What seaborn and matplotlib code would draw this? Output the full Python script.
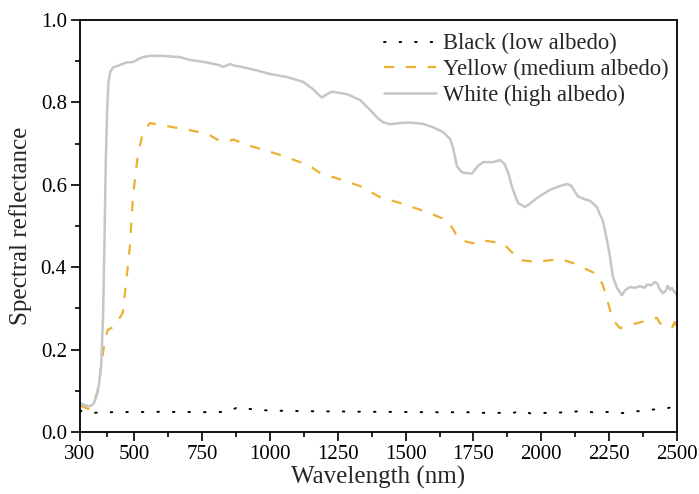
import numpy as np
import pandas as pd
import matplotlib
matplotlib.use("Agg")
import matplotlib.pyplot as plt
import seaborn as sns

# ---- data ----
white_wl = [300, 315, 335, 350, 360, 370, 378, 385, 390, 395, 400, 405, 412, 422, 436, 455, 473,
            495, 515, 532, 558, 600, 668, 705, 760, 816, 827, 853, 870, 890, 950, 1000, 1060,
            1122, 1159, 1180, 1192, 1210, 1229, 1284, 1332, 1369, 1400, 1417, 1442, 1480, 1516,
            1564, 1600, 1638, 1663, 1675, 1689, 1708, 1744, 1765, 1785, 1822, 1848, 1865, 1880,
            1892, 1914, 1940, 1960, 1984, 2032, 2069, 2095, 2110, 2135, 2160, 2180, 2205, 2216,
            2227, 2242, 2252, 2264, 2279, 2297, 2310, 2327, 2345, 2364, 2380, 2390, 2405, 2419,
            2428, 2435, 2448, 2458, 2465, 2475, 2481, 2490, 2500]
white_r = [0.070, 0.066, 0.062, 0.068, 0.085, 0.115, 0.160, 0.280, 0.450, 0.650, 0.780, 0.850,
           0.875, 0.885, 0.888, 0.893, 0.897, 0.898, 0.905, 0.910, 0.913, 0.913, 0.910, 0.903,
           0.898, 0.890, 0.886, 0.893, 0.889, 0.887, 0.878, 0.869, 0.862, 0.850, 0.832, 0.818,
           0.812, 0.820, 0.826, 0.820, 0.806, 0.782, 0.760, 0.752, 0.747, 0.750, 0.751, 0.748,
           0.740, 0.728, 0.712, 0.690, 0.645, 0.630, 0.627, 0.645, 0.655, 0.655, 0.660, 0.650,
           0.625, 0.595, 0.556, 0.546, 0.555, 0.568, 0.588, 0.597, 0.602, 0.598, 0.572, 0.565,
           0.561, 0.546, 0.528, 0.513, 0.466, 0.430, 0.376, 0.350, 0.332, 0.345, 0.352, 0.350,
           0.354, 0.350, 0.358, 0.356, 0.364, 0.360, 0.348, 0.337, 0.342, 0.355, 0.345, 0.350,
           0.340, 0.333]

yellow_wl = [300, 315, 330, 345, 366, 392, 403, 429, 458, 484, 495, 514, 532, 558, 600, 717, 772,
             805, 841, 865, 915, 1026, 1111, 1155, 1184, 1250, 1332, 1406, 1479, 1578, 1652, 1670,
             1693, 1700, 1748, 1774, 1859, 1921, 1984, 2069, 2117, 2205, 2227, 2264, 2290, 2338,
             2389, 2426, 2437, 2463, 2481, 2492, 2500]
yellow_r = [0.065, 0.060, 0.056, 0.062, 0.100, 0.225, 0.248, 0.257, 0.290, 0.450, 0.570, 0.677,
            0.726, 0.750, 0.745, 0.731, 0.723, 0.710, 0.704, 0.710, 0.697, 0.675, 0.655, 0.642,
            0.629, 0.615, 0.597, 0.570, 0.556, 0.534, 0.514, 0.498, 0.471, 0.466, 0.458, 0.466,
            0.458, 0.417, 0.413, 0.420, 0.410, 0.383, 0.357, 0.272, 0.252, 0.262, 0.270, 0.277,
            0.264, 0.255, 0.252, 0.267, 0.247]

black_wl = [300, 330, 400, 600, 800, 850, 880, 900, 950, 1000, 1200, 1400, 1600, 1750, 1800,
            1900, 1930, 1960, 2000, 2100, 2150, 2200, 2250, 2300, 2350, 2400, 2450, 2480, 2490, 2500]
black_r = [0.052, 0.046, 0.048, 0.049, 0.048, 0.050, 0.060, 0.058, 0.054, 0.052, 0.050, 0.049,
           0.048, 0.048, 0.046, 0.047, 0.052, 0.045, 0.046, 0.048, 0.051, 0.047, 0.049, 0.046,
           0.050, 0.054, 0.056, 0.060, 0.055, 0.040]

labels = ["Black (low albedo)", "Yellow (medium albedo)", "White (high albedo)"]
x_major = [300, 500, 750, 1000, 1250, 1500, 1750, 2000, 2250, 2500]
x_minor = [400, 625, 875, 1125, 1375, 1625, 1875, 2125, 2375]
y_major = [0.0, 0.2, 0.4, 0.6, 0.8, 1.0]
y_minor = [0.1, 0.3, 0.5, 0.7, 0.9]

# ---- style ----
sns.set_theme(style="ticks")
plt.rcParams["font.family"] = ["Liberation Serif", "DejaVu Serif"]

fig = plt.figure(figsize=(6.99, 4.94), dpi=100)
ax = fig.add_axes([0.1144, 0.1255, 0.9685 - 0.1144, 0.9595 - 0.1255])

df_b = pd.DataFrame({"wl": black_wl, "r": black_r})
df_y = pd.DataFrame({"wl": yellow_wl, "r": yellow_r})
df_w = pd.DataFrame({"wl": white_wl, "r": white_r})

sns.lineplot(data=df_b, x="wl", y="r", ax=ax, color="black", lw=1.4,
             linestyle=(0, (0.8, 7.2)), dash_capstyle="round", label=labels[0], sort=False)
sns.lineplot(data=df_y, x="wl", y="r", ax=ax, color="#EBB131", lw=1.6,
             linestyle=(0, (4.6, 5.2)), label=labels[1], sort=False)
sns.lineplot(data=df_w, x="wl", y="r", ax=ax, color="#C6C6C6", lw=1.8,
             linestyle="-", label=labels[2], sort=False)

ax.set_xlim(300, 2500)
ax.set_ylim(0, 1.0)
ax.set_xticks(x_major)
ax.set_xticks(x_minor, minor=True)
ax.set_yticks(y_major)
ax.set_yticks(y_minor, minor=True)
ax.set_yticklabels([f"{v:.1f}" for v in y_major])
ax.set_xticklabels([str(v) for v in x_major])

for s in ax.spines.values():
    s.set_visible(True)
    s.set_linewidth(1.3)
    s.set_color("black")
ax.tick_params(which="major", direction="out", length=6.5, width=1.2, labelsize=15,
               colors="black", pad=3)
ax.tick_params(which="minor", direction="out", length=3.8, width=1.2, colors="black")

ax.set_xlabel("Wavelength (nm)", fontsize=18, labelpad=1)
ax.set_ylabel("Spectral reflectance", fontsize=18, labelpad=6)

leg = ax.legend(loc="upper right", frameon=False, fontsize=16.3, handlelength=2.3,
                handletextpad=0.3, labelspacing=0.2, borderaxespad=0.15,
                bbox_to_anchor=(1.007, 0.998))

fig.savefig("out.png", dpi=100)
